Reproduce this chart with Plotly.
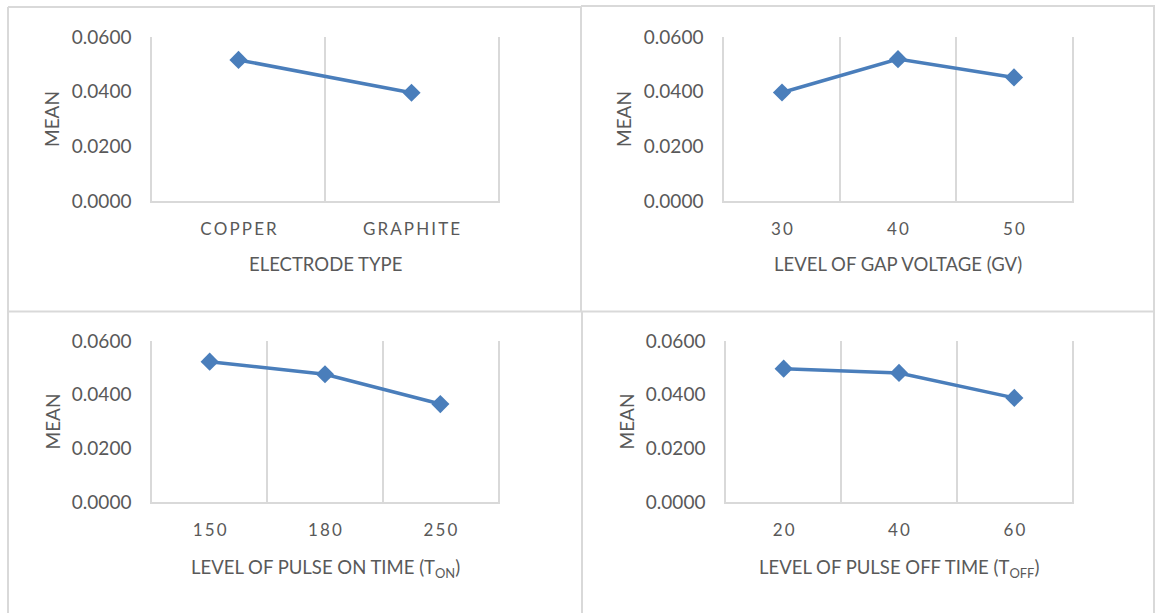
import plotly.graph_objects as go

W, H = 1155, 613

electrode_cats = ["COPPER", "GRAPHITE"]
electrode_mean = [0.0516, 0.0396]

gv_cats = ["30", "40", "50"]
gv_mean = [0.0397, 0.0519, 0.0452]

ton_cats = ["150", "180", "250"]
ton_mean = [0.0523, 0.0476, 0.0365]

toff_cats = ["20", "40", "60"]
toff_mean = [0.0497, 0.0481, 0.0388]

x_titles = ["ELECTRODE TYPE", "LEVEL OF GAP VOLTAGE (GV)",
            "LEVEL OF PULSE ON TIME (T<sub>ON</sub>)",
            "LEVEL OF PULSE OFF TIME (T<sub>OFF</sub>)"]
y_title = "MEAN"
y_ticks = [0.0, 0.02, 0.04, 0.06]

LINE = "#4A7EBB"
GRID = "#D9D9D9"
TXT = "#595959"
FONT = "Lato"

def spaced(s):
    return "\u2009".join(list(s))

# panel pixel boxes: (x0, x1, ytop, ybottom, x-title centre y)
boxes = [(152, 498, 37, 201, 264), (724, 1072, 37, 201, 264),
         (152, 498, 341, 502, 568), (726, 1072, 341, 502, 568)]
series = [(electrode_cats, electrode_mean), (gv_cats, gv_mean),
          (ton_cats, ton_mean), (toff_cats, toff_mean)]

fig = go.Figure()
for i, ((cats, vals), (x0, x1, yt, yb, ty)) in enumerate(zip(series, boxes)):
    n = i + 1
    xa = "x" if n == 1 else f"x{n}"
    ya = "y" if n == 1 else f"y{n}"
    fig.add_trace(go.Scatter(
        x=[spaced(c) for c in cats], y=vals, xaxis=xa, yaxis=ya,
        mode="lines+markers",
        line=dict(color=LINE, width=3.5),
        marker=dict(symbol="diamond", size=14, color=LINE),
        showlegend=False, hoverinfo="skip"))
    xkey = "xaxis" if n == 1 else f"xaxis{n}"
    ykey = "yaxis" if n == 1 else f"yaxis{n}"
    fig.layout[xkey] = dict(
        domain=[x0 / W, x1 / W], anchor=ya, type="category",
        tickson="boundaries", showgrid=True, gridcolor=GRID, gridwidth=1.5,
        showline=True, linecolor=GRID, linewidth=2, ticks="",
        range=[-0.5, len(cats) - 0.5], automargin=False,
        tickfont=dict(family=FONT, size=17, color=TXT),
        ticklabelstandoff=12, zeroline=False, fixedrange=True)
    fig.layout[ykey] = dict(
        domain=[1 - yb / H, 1 - yt / H], anchor=xa,
        range=[0, 0.06], tickvals=y_ticks, tickformat=".4f",
        showgrid=False, zeroline=False, ticks="",
        showline=True, mirror=True, linecolor=GRID, linewidth=1.5,
        automargin=False,
        tickfont=dict(family=FONT, size=19, color=TXT),
        ticklabelstandoff=15, fixedrange=True)
    # axis titles
    fig.add_annotation(text=x_titles[i], xref="paper", yref="paper",
                       x=(x0 + x1) / 2 / W, y=1 - ty / H,
                       showarrow=False, xanchor="center", yanchor="middle",
                       font=dict(family=FONT, size=18.5, color=TXT))
    fig.add_annotation(text=y_title, xref="paper", yref="paper",
                       x=(x0 - 100) / W, y=1 - ((yt + yb) / 2) / H,
                       showarrow=False, textangle=-90,
                       xanchor="center", yanchor="middle",
                       font=dict(family=FONT, size=19, color=TXT))

# panel borders
def hline(x0, x1, y):
    fig.add_shape(type="line", xref="paper", yref="paper",
                  x0=x0 / W, x1=x1 / W, y0=1 - y / H, y1=1 - y / H,
                  line=dict(color=GRID, width=2))

def vline(x, y0, y1):
    fig.add_shape(type="line", xref="paper", yref="paper",
                  x0=x / W, x1=x / W, y0=1 - y0 / H, y1=1 - y1 / H,
                  line=dict(color=GRID, width=2))

hline(8, 581, 7)
hline(581, 1155, 6)
hline(8, 1155, 311.5)
vline(8, 7, 613)
vline(581, 6, 311)
vline(582, 312, 613)
vline(1154, 6, 613)

fig.update_layout(template="none", width=W, height=H,
                  margin=dict(l=0, r=0, t=0, b=0, pad=0, autoexpand=False),
                  paper_bgcolor="white", plot_bgcolor="white",
                  font=dict(family=FONT, color=TXT))
fig.write_html("out.html", config={"displayModeBar": False},
               post_script="document.body.style.margin='0';"
                           "document.body.style.overflow='hidden';")
